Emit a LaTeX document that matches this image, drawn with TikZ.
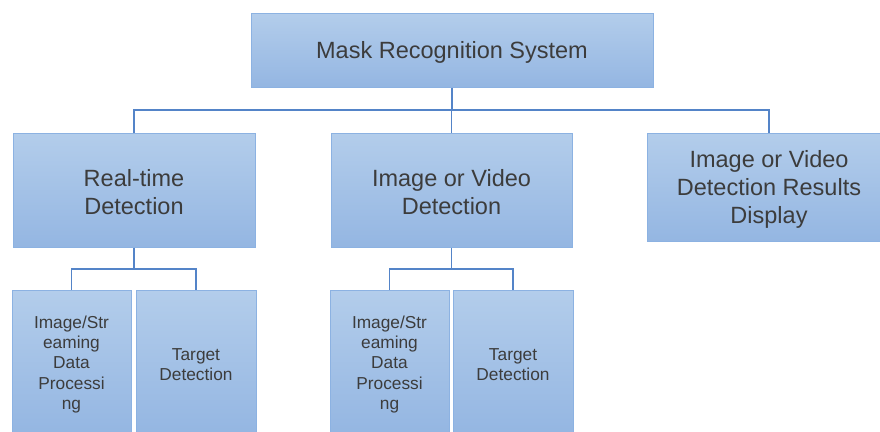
\documentclass[tikz,border=0pt]{standalone}
\usepackage{fontspec}
\setmainfont{Liberation Sans}
\definecolor{boxtop}{HTML}{B3CDEB}
\definecolor{boxbot}{HTML}{94B6E2}
\definecolor{boxedge}{HTML}{8CB2E2}
\definecolor{wire}{HTML}{5484C8}
\definecolor{ink}{HTML}{3C3C3C}
\tikzset{
  box/.style={rectangle, draw=boxedge, line width=1pt, top color=boxtop, bottom color=boxbot,
    inner sep=0pt},
  bigtext/.style={font=\fontsize{23.5}{28}\selectfont, text=ink, align=center, yshift=-2pt},
  smalltext/.style={font=\fontsize{17.3}{20.3}\selectfont, text=ink, align=center, yshift=-2.5pt},
  big/.style={label={[bigtext]center:{#1}}},
  small/.style={label={[smalltext]center:{#1}}},
  link/.style={draw=wire, line width=1.2pt},
}
\begin{document}
\begin{tikzpicture}[x=1pt, y=-1pt]
\useasboundingbox (0,0) rectangle (880,431);
\clip (0,0) rectangle (880,431);
% root
\node[box, minimum width=402pt, minimum height=74pt, big={Mask Recognition System}] (root) at (452,50) {};
% second level
\node[box, minimum width=242pt, minimum height=114pt, big={Real-time\\Detection}] (rt) at (134,190) {};
\node[box, minimum width=241pt, minimum height=114pt, big={Image or Video\\Detection}] (iv) at (451.5,190) {};
\node[box, minimum width=244pt, minimum height=108pt, big={Image or Video\\Detection Results\\Display}] (disp) at (769,187) {};
% third level
\node[box, minimum width=119pt, minimum height=144pt, small={Image/Str\\eaming\\Data\\Processi\\ng}] (rtproc) at (71.5,362) {};
\node[box, minimum width=120pt, minimum height=144pt, small={Target\\Detection}] (rttgt) at (196,362) {};
\node[box, minimum width=119pt, minimum height=144pt, small={Image/Str\\eaming\\Data\\Processi\\ng}] (ivproc) at (389.5,362) {};
\node[box, minimum width=120pt, minimum height=144pt, small={Target\\Detection}] (ivtgt) at (513,362) {};
% bus levels
\coordinate (bus) at (0,110);
\coordinate (busa) at (0,269);
% connectors
\draw[link] (root.south) -- (root.south |- bus) -| (rt.north);
\draw[link] (root.south |- bus) -| (iv.north);
\draw[link] (root.south |- bus) -| (disp.north);
\draw[link] (rt.south) -- (rt.south |- busa) -| (rtproc.north);
\draw[link] (rt.south |- busa) -| (rttgt.north);
\draw[link] (iv.south) -- (iv.south |- busa) -| (ivproc.north);
\draw[link] (iv.south |- busa) -| (ivtgt.north);
\end{tikzpicture}
\end{document}
